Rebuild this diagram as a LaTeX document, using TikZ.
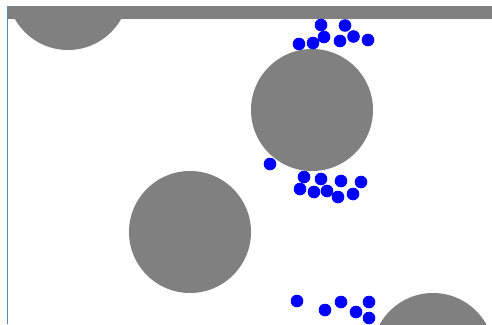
\documentclass[tikz,border=0pt]{standalone}
\definecolor{obst}{RGB}{128,128,128}
\definecolor{edge}{RGB}{80,140,200}
\tikzset{
  obstacle/.style={fill=obst, draw=none},
  particle/.style={fill=blue, draw=none},
}
\begin{document}
\begin{tikzpicture}[x=1pt,y=-1pt]
\useasboundingbox (0,0) rectangle (492,324);
\fill[white] (0,0) rectangle (492,324);
\begin{scope}
\clip (7.5,6) rectangle (492,324);
% wall
\fill[obst] (7.5,6) rectangle (492,19);
% obstacles
\foreach \p in {(68,-11),(312,110),(190,232),(433,354)}
  \fill[obstacle] \p circle[radius=61];
% particles
\foreach \p in {(321,25),(345,25.5),(324,37),(313,43),(299,44),(340,41),(353.5,36.5),(368,40),
  (270,164),(304,177),(321,179),(341,181),(361,182),(300,189),(314,192),(327,191),(338,197),(353,194),
  (297,301),(325,310),(341,302),(356,312),(369,302),(369,318)}
  \fill[particle] \p circle[radius=6.3];
\end{scope}
\draw[edge, line width=1pt] (7.5,6) -- (7.5,324);
\end{tikzpicture}
\end{document}
